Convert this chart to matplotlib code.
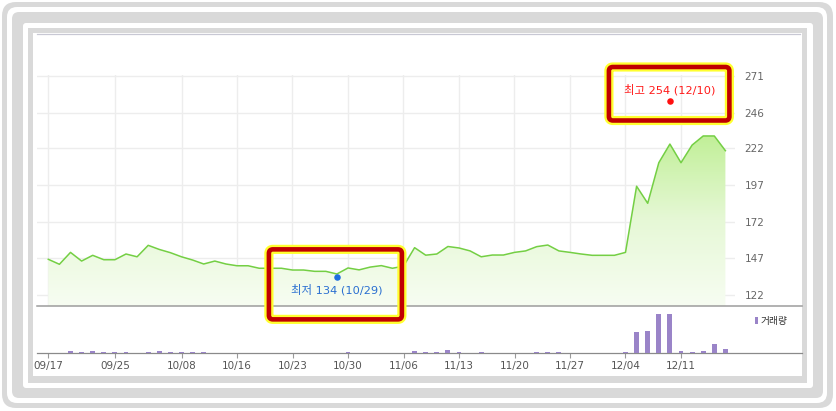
import numpy as np
import matplotlib
matplotlib.use('Agg')
import matplotlib.pyplot as plt
from matplotlib.patches import FancyBboxPatch, Rectangle
from matplotlib.colors import LinearSegmentedColormap

plt.rcParams['font.family'] = ['Noto Sans CJK KR', 'DejaVu Sans']

# ---------------- data ----------------
prices = [146.3, 142.9, 151.0, 145.1, 149.0, 146.0, 146.0, 149.9, 148.0, 155.8,
          153.0, 150.8, 148.0, 145.8, 143.1, 145.1, 143.1, 141.9, 141.9, 140.2,
          140.2, 140.2, 139.0, 139.0, 138.1, 138.1, 136.3, 140.4, 139.1, 141.0,
          142.0, 140.2, 141.6, 154.2, 149.1, 149.9, 155.0, 154.0, 152.0, 148.0,
          149.2, 149.2, 151.0, 152.0, 154.9, 156.0, 152.0, 151.0, 149.9, 149.0,
          149.0, 149.0, 151.0, 196.0, 184.4, 212.0, 224.7, 212.0, 224.0, 230.2,
          230.2, 220.2]
volumes = [0, 0, 4, 2.5, 5, 2.5, 2.5, 2.5, 0, 2.5,
           4, 2.5, 2.5, 2.5, 2.5, 0, 0, 0, 0, 0,
           0, 0, 0, 0, 0, 0, 0, 2.5, 0, 0,
           0, 0, 0, 4, 2.5, 2.5, 8, 2.5, 0, 2.5,
           0, 0, 0, 0, 2.5, 2.5, 2.5, 0, 0, 0,
           0, 0, 2.5, 53, 56, 100, 100, 5, 3, 5,
           22, 11]
tick_idx = [0, 6, 12, 17, 22, 27, 32, 37, 42, 47, 52, 57]
tick_labels = ['09/17', '09/25', '10/08', '10/16', '10/23', '10/30',
               '11/06', '11/13', '11/20', '11/27', '12/04', '12/11']
ytick_vals = [122, 147, 172, 197, 222, 246, 271]
high_idx, high_val, high_label = 56, 254, '최고 254 (12/10)'
low_idx, low_val, low_label = 26, 134, '최저 134 (10/29)'
legend_label = '거래량'

# ---------------- figure ----------------
W, H = 836, 411
fig = plt.figure(figsize=(W / 100, H / 100), dpi=100)


def frac(l, t, r, b):
    return [l / W, (H - b) / H, (r - l) / W, (b - t) / H]


bg = fig.add_axes([0, 0, 1, 1], zorder=0)
bg.set_xlim(0, W); bg.set_ylim(H, 0); bg.axis('off')
G = '#d9d9d9'
bg.add_patch(FancyBboxPatch((2, 2), 831, 406, boxstyle='round,pad=0,rounding_size=14', fc=G, ec='none'))
bg.add_patch(FancyBboxPatch((7, 7), 820, 396, boxstyle='round,pad=0,rounding_size=10', fc='white', ec='none'))
bg.add_patch(FancyBboxPatch((12, 12), 811, 386, boxstyle='round,pad=0,rounding_size=7', fc=G, ec='none'))
bg.add_patch(FancyBboxPatch((23, 23), 790, 365, boxstyle='round,pad=0,rounding_size=3', fc='white', ec='none'))
bg.add_patch(Rectangle((28, 28), 779, 355, fc=G, ec='none'))
bg.add_patch(Rectangle((33, 33), 769, 343, fc='white', ec='none'))
bg.plot([37, 800], [34.5, 34.5], color='#c8c8d4', lw=0.9)

# ---------------- price axes ----------------
px_per_idx = 11.1
x0_px = 48.3
ax = fig.add_axes(frac(37, 75, 735, 306), zorder=2)
ax.patch.set_alpha(0)
xl = ((37 - x0_px) / px_per_idx, (735 - x0_px) / px_per_idx)
yl = (114.52, 271.68)

x = np.arange(len(prices))
ybot = yl[0]
poly = ax.fill_between(x, prices, ybot, facecolor='none', edgecolor='none')
cmap = LinearSegmentedColormap.from_list('g', ['#f7fdf2', '#e6f8d6', '#c0ef96'])
grad = np.linspace(0, 1, 256).reshape(-1, 1)
im = ax.imshow(grad, extent=[x[0], x[-1], ybot, 232], origin='lower', aspect='auto',
               cmap=cmap, zorder=1, interpolation='bilinear')
im.set_clip_path(poly.get_paths()[0], transform=ax.transData)
ax.plot(x, prices, color='#74cf44', lw=1.1, zorder=4, solid_joinstyle='round')

ax.set_xlim(*xl); ax.set_ylim(*yl)
ax.set_yticks(ytick_vals)
ax.set_yticklabels([str(v) for v in ytick_vals], family='DejaVu Sans')
ax.yaxis.tick_right()
ax.tick_params(axis='y', length=0, pad=7, labelsize=7.5, labelcolor='#666666')
ax.set_xticks(tick_idx)
ax.tick_params(axis='x', length=0, labelbottom=False)
ax.grid(True, color='#ededed', lw=1)
ax.set_axisbelow(True)
for s in ax.spines.values():
    s.set_visible(False)

# high / low markers
ann_font = ['DejaVu Sans', 'Noto Sans CJK KR']
ax.plot([high_idx], [high_val], 'o', color='#ff1010', ms=4.7, mec='none', zorder=6)
ax.plot([low_idx], [low_val], 'o', color='#1f6fe0', ms=4.7, mec='none', zorder=6)
ax.annotate(high_label, (high_idx, high_val), xytext=(0, 11 * 0.72), textcoords='offset points',
            ha='center', va='center', fontsize=8.2, color='#ff1a1a', zorder=7, family=ann_font)
ax.annotate(low_label, (low_idx, low_val), xytext=(0, -12 * 0.72), textcoords='offset points',
            ha='center', va='center', fontsize=8.2, color='#2a6fd1', zorder=7, family=ann_font)

# ---------------- volume axes ----------------
vax = fig.add_axes(frac(37, 306, 802, 353), zorder=2)
vax.patch.set_alpha(0)
vax.bar(x, volumes, width=0.45, color='#9a84c8', zorder=3)
vax.set_xlim(xl[0], (802 - x0_px) / px_per_idx)
vax.set_ylim(0, 100 * 47 / 39.3)
vax.set_yticks([])
vax.set_xticks(tick_idx)
vax.set_xticklabels(tick_labels, family='DejaVu Sans')
vax.tick_params(axis='x', length=3.6, width=0.8, color='#9a9a9a', pad=2.5,
                labelsize=7.5, labelcolor='#555555')
vax.spines['left'].set_visible(False)
vax.spines['right'].set_visible(False)
vax.spines['top'].set_color('#9c9c9c'); vax.spines['top'].set_linewidth(1.1)
vax.spines['bottom'].set_color('#8a8a8a'); vax.spines['bottom'].set_linewidth(0.9)

# ---------------- overlay (legend + highlight boxes) ----------------
fg = fig.add_axes([0, 0, 1, 1], zorder=5)
fg.set_xlim(0, W); fg.set_ylim(H, 0); fg.axis('off')
fg.patch.set_alpha(0)
fg.add_patch(Rectangle((754.5, 316.5), 3.8, 7.5, fc='#9a84c8', ec='none', snap=True))
fg.text(760.5, 320.5, legend_label, fontsize=7, va='center', ha='left', color='#333333')


def to_px(i, v):
    dx, dy = ax.transData.transform((i, v))
    return dx, H - dy


def hbox(cx, cy, l, r, t, b):
    for ec, lw in (('#ffff30', 6.6), ('#c00000', 3.3)):
        fg.add_patch(FancyBboxPatch((cx + l, cy + t), r - l, b - t,
                                    boxstyle='round,pad=0,rounding_size=4',
                                    fc='none', ec=ec, lw=lw, joinstyle='round'))


hx, hy = to_px(high_idx, high_val)
hbox(hx, hy, -61, 59.5, -34, 19.5)
lx, ly = to_px(low_idx, low_val)
hbox(lx, ly, -68, 65, -28, 42)

fig.savefig('out.png', dpi=100)
